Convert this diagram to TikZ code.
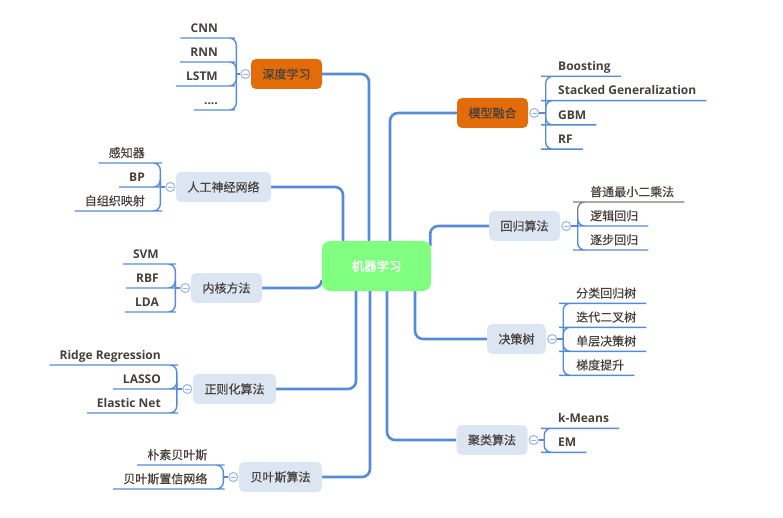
\documentclass[tikz,border=0pt]{standalone}
\usepackage{fontspec}
\setmainfont[FakeBold=0.5]{Noto Sans CJK SC}
\newfontfamily\latinfont{Open Sans}
\newfontfamily\rootfont[FakeBold=2]{Noto Sans CJK SC}
\usepackage{xcolor}
\usetikzlibrary{backgrounds}

\definecolor{trunk}{RGB}{86,140,214}
\definecolor{foldc}{RGB}{150,180,228}
\definecolor{ink}{RGB}{72,64,60}
\definecolor{boxfill}{RGB}{220,230,242}
\definecolor{hotfill}{RGB}{227,108,10}
\definecolor{rootfill}{RGB}{128,255,128}

\tikzset{
    root/.style={rectangle, rounded corners=8pt, fill=rootfill, minimum width=109pt, minimum height=50pt, text=white, font=\rootfont\fontsize{12.5}{14}\selectfont},
    branch/.style={rectangle, rounded corners=5pt, fill=boxfill, minimum height=30pt, inner xsep=11.5pt, text=ink, font=\fontsize{12}{14}\selectfont},
    hot/.style={branch, fill=hotfill},
    fold/.style={circle, draw=foldc, fill=white, line width=1pt, minimum size=9pt, inner sep=0pt,
        path picture={\draw[foldc, line width=0.9pt] ([xshift=2.2pt]path picture bounding box.west) -- ([xshift=-2.2pt]path picture bounding box.east);}},
    leafl/.style={anchor=south east, inner xsep=10pt, inner ysep=2.5pt, text height=9pt, text depth=3pt, text=ink},
    leafr/.style={leafl, anchor=south west},
    zh/.style={font=\fontsize{12}{14}\selectfont},
    en/.style={font=\latinfont\bfseries\fontsize{12}{14}\selectfont},
    limb/.style={draw=trunk, line width=2.6pt, rounded corners=8pt},
    twig/.style={draw=trunk, line width=1.4pt, rounded corners=7pt},
}

\begin{document}
\begin{tikzpicture}[x=1pt, y=-1pt]
    \useasboundingbox (0,0) rectangle (783,518);

    \node[root] (ml) at (376.5,266) {机器学习};

    % left branches
    \node[hot] (deep) at (286.5,74) {深度学习};
    \node[branch] (ann) at (223.5,187) {人工神经网络};
    \node[branch] (kernel) at (226.5,288) {内核方法};
    \node[branch] (regu) at (234.5,389) {正则化算法};
    \node[branch] (bayes) at (280.5,477) {贝叶斯算法};

    % right branches
    \node[hot] (fusion) at (492.5,113) {模型融合};
    \node[branch] (regr) at (524.5,226) {回归算法};
    \node[branch] (tree) at (516.5,339) {决策树};
    \node[branch] (clust) at (492,440) {聚类算法};

    \foreach \b in {deep,ann,kernel,regu,bayes}
        \node[fold] (\b f) at ([xshift=-5.5pt]\b.west) {};
    \foreach \b in {fusion,regr,tree,clust}
        \node[fold] (\b f) at ([xshift=6pt]\b.east) {};

    \coordinate (deepj) at ([xshift=-4pt]deepf.west);
    \coordinate (annj) at ([xshift=-5pt]annf.west);
    \coordinate (kernelj) at ([xshift=-5pt]kernelf.west);
    \coordinate (reguj) at ([xshift=-5.5pt]reguf.west);
    \coordinate (bayesj) at ([xshift=-5pt]bayesf.west);
    \coordinate (fusionj) at ([xshift=6.5pt]fusionf.east);
    \coordinate (regrj) at ([xshift=6.5pt]regrf.east);
    \coordinate (treej) at ([xshift=6pt]treef.east);
    \coordinate (clustj) at ([xshift=5.5pt]clustf.east);

    % leaves
    \foreach \n/\t [count=\i] in {cnn/CNN, rnn/RNN, lstm/LSTM}
        \node[leafl, en] (\n) at (228,14+24*\i) {\t};
    \node[leafl, en] (more) at (228,110) {....};
    \foreach \n/\t/\s [count=\i] in {perc/感知器/zh, bp/BP/en, som/自组织映射/zh}
        \node[leafl, \s] (\n) at (155,139+24*\i) {\t};
    \foreach \n/\t [count=\i] in {svm/SVM, rbf/RBF, lda/LDA}
        \node[leafl, en] (\n) at (169,240+24*\i) {\t};
    \foreach \n/\t [count=\i] in {ridge/Ridge Regression, lasso/LASSO, enet/Elastic Net}
        \node[leafl, en] (\n) at (171,341+24*\i) {\t};
    \foreach \n/\t [count=\i] in {nbayes/朴素贝叶斯, bnet/贝叶斯置信网络}
        \node[leafl, zh] (\n) at (217.5,441+24*\i) {\t};
    \foreach \n/\t [count=\i] in {boost/Boosting, stack/Stacked Generalization, gbm/GBM, rf/RF}
        \node[leafr, en] (\n) at (548,52+24.3*\i) {\t};
    \foreach \n/\t [count=\i] in {ols/普通最小二乘法, logit/逻辑回归, stepw/逐步回归}
        \node[leafr, zh] (\n) at (580,178+24*\i) {\t};
    \foreach \n/\t [count=\i] in {cart/分类回归树, id3/迭代二叉树, stump/单层决策树, gbdt/梯度提升}
        \node[leafr, zh] (\n) at (566,279.3+24*\i) {\t};
    \foreach \n/\t [count=\i] in {kmeans/k-Means, em/EM}
        \node[leafr, en] (\n) at (548,404.3+24*\i) {\t};

    \begin{pgfonlayer}{background}
        \draw[limb] (deep.east) -| ([xshift=-7.5pt]ml.north);
        \draw[limb] (ann.east) -| ([xshift=-33.5pt]ml.north);
        \draw[limb] (kernel.east) -| ([yshift=-14pt]ml.west);
        \draw[limb] (regu.east) -| ([xshift=-20.5pt]ml.south);
        \draw[limb] (bayes.east) -| ([xshift=-6.5pt]ml.south);
        \draw[limb] (fusion.west) -| ([xshift=13.5pt]ml.north);
        \draw[limb] (regr.west) -| ([xshift=-1pt,yshift=-5pt]ml.north east);
        \draw[limb] (tree.west) -| ([xshift=38.5pt]ml.south);
        \draw[limb] (clust.west) -| ([xshift=10.5pt]ml.south);

        \foreach \b in {deep,ann,kernel,regu,bayes,fusion,regr,tree,clust}
            \draw[twig] (\b f) -- (\b j);

        \foreach \l in {cnn,rnn,lstm,more}
            \draw[twig] (deepj) |- (\l.south east) -- (\l.south west);
        \foreach \l in {perc,bp,som}
            \draw[twig] (annj) |- (\l.south east) -- (\l.south west);
        \foreach \l in {svm,rbf,lda}
            \draw[twig] (kernelj) |- (\l.south east) -- (\l.south west);
        \foreach \l in {ridge,lasso,enet}
            \draw[twig] (reguj) |- (\l.south east) -- (\l.south west);
        \foreach \l in {nbayes,bnet}
            \draw[twig] (bayesj) |- (\l.south east) -- (\l.south west);
        \foreach \l in {boost,stack,gbm,rf}
            \draw[twig] (fusionj) |- (\l.south west) -- (\l.south east);
        \draw[twig, draw=gray] (regrj) |- (ols.south west) -- (ols.south east);
        \foreach \l in {logit,stepw}
            \draw[twig] (regrj) |- (\l.south west) -- (\l.south east);
        \foreach \l in {cart,id3,stump,gbdt}
            \draw[twig] (treej) |- (\l.south west) -- (\l.south east);
        \foreach \l in {kmeans,em}
            \draw[twig] (clustj) |- (\l.south west) -- (\l.south east);
    \end{pgfonlayer}
\end{tikzpicture}
\end{document}
